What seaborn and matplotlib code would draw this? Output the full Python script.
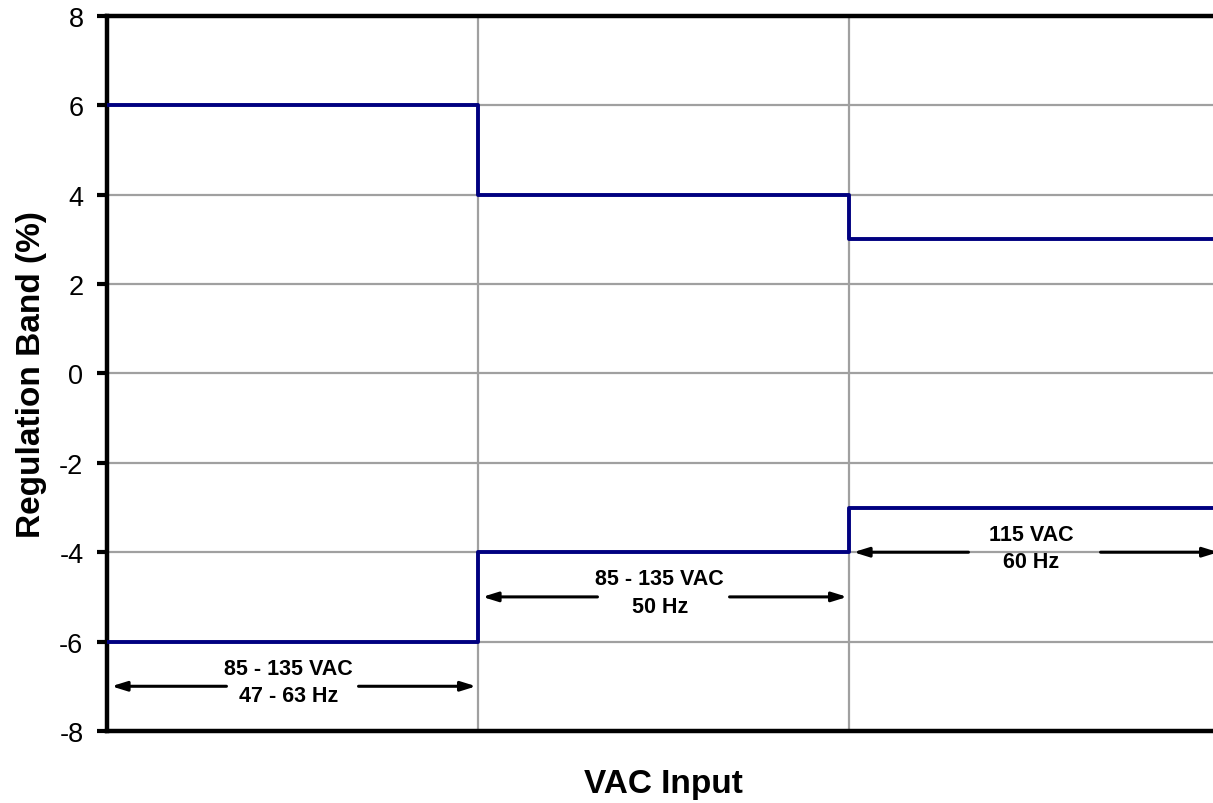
import matplotlib.pyplot as plt
import pandas as pd
import seaborn as sns

# Regulation band per input range (step limits)
x_edges = [0, 1, 2, 3]
upper_band = [6, 4, 3]
lower_band = [-6, -4, -3]

# Range annotations
range_labels = ["85 - 135 VAC\n47 - 63 Hz", "85 - 135 VAC\n50 Hz", "115 VAC\n60 Hz"]
arrow_levels = [-7.0, -5.0, -4.0]

y_ticks = [-8, -6, -4, -2, 0, 2, 4, 6, 8]

sns.set_style("white")
plt.rcParams["font.family"] = ["Liberation Sans", "DejaVu Sans"]
plt.rcParams["axes.unicode_minus"] = False
plt.rcParams["text.color"] = "black"
plt.rcParams["axes.labelcolor"] = "black"

fig = plt.figure(figsize=(12.13, 8.04), dpi=100)
ax = fig.add_axes([0.0882, 0.0896, 0.9176, 0.8893])

df = pd.DataFrame({
    "x": x_edges * 2,
    "y": upper_band + upper_band[-1:] + lower_band + lower_band[-1:],
    "band": ["upper"] * 4 + ["lower"] * 4,
})
sns.lineplot(data=df, x="x", y="y", units="band", estimator=None,
             drawstyle="steps-post", color="#000080", linewidth=2.8, ax=ax,
             zorder=3)

ax.set_xlim(x_edges[0], x_edges[-1])
ax.set_ylim(-8, 8)
ax.set_yticks(y_ticks)
ax.set_xticks(x_edges[1:-1])
ax.set_xticklabels([])
ax.grid(True, color="#a0a0a0", linewidth=1.6, zorder=0)
ax.set_axisbelow(True)

for side in ["left", "top", "bottom"]:
    ax.spines[side].set_color("black")
    ax.spines[side].set_linewidth(3.2)
ax.spines["right"].set_visible(False)

ax.tick_params(axis="y", which="both", left=True, length=7, width=3,
               direction="out", labelsize=19.5, pad=10, colors="black")
ax.tick_params(axis="x", which="both", bottom=False, length=0)

ax.set_ylabel("Regulation Band (%)", fontsize=24, fontweight="bold", labelpad=9)
ax.set_xlabel("VAC Input", fontsize=24, fontweight="bold", labelpad=23)

# double-headed range arrows with a gap for the text
half_gap = 0.178
for i, (label, level) in enumerate(zip(range_labels, arrow_levels)):
    left, right = x_edges[i] + 0.012, x_edges[i + 1] - 0.005
    mid = (x_edges[i] + x_edges[i + 1]) / 2
    arrow = dict(arrowstyle="-|>,head_length=0.9,head_width=0.28",
                 color="black", lw=2.2, shrinkA=0, shrinkB=0)
    ax.annotate("", xy=(left, level), xytext=(mid - half_gap, level),
                arrowprops=arrow, zorder=4)
    ax.annotate("", xy=(right, level), xytext=(mid + half_gap, level),
                arrowprops=arrow, zorder=4)
    ax.text(mid - 0.01, level + 0.1, label, ha="center", va="center",
            fontsize=15.5, fontweight="bold", linespacing=1.4, zorder=5)

fig.savefig("out.png", dpi=100)
